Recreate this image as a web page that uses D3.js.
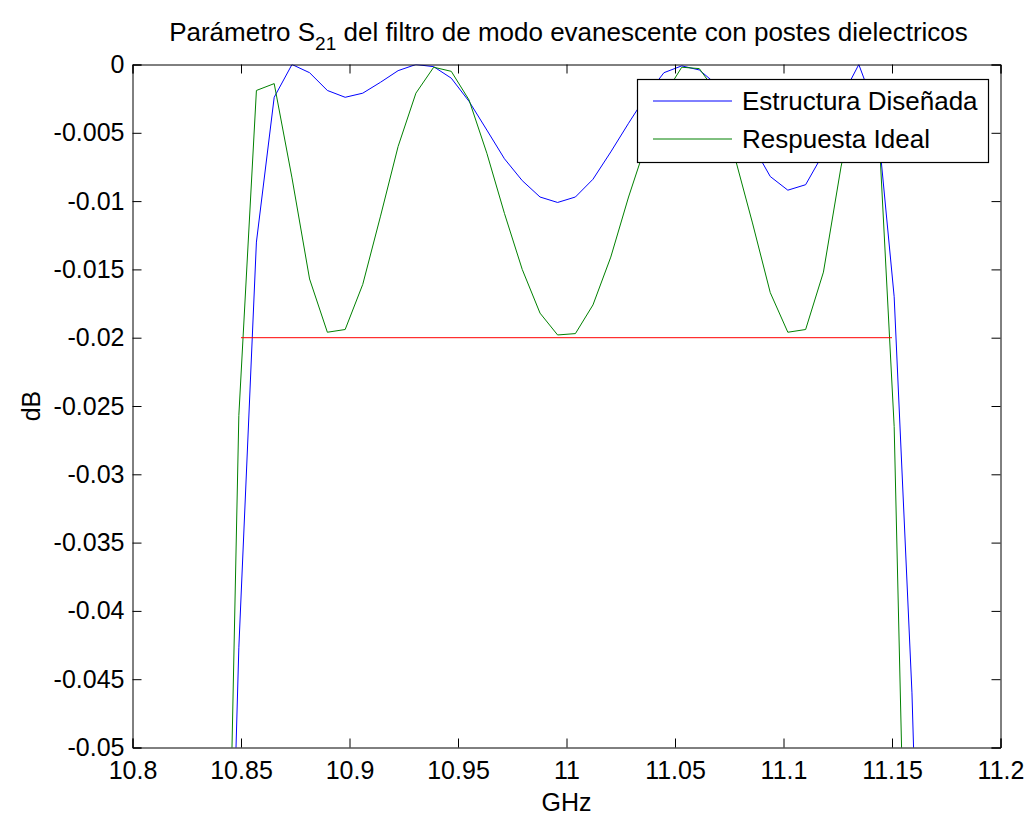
<!DOCTYPE html>
<html>
<head>
<meta charset="utf-8">
<script src="https://cdn.jsdelivr.net/npm/d3@7"></script>
<style>
  html, body { margin: 0; padding: 0; background: #fff; }
  svg { display: block; }
  text { font-family: "Liberation Sans", Arial, Helvetica, sans-serif; fill: #000; }
</style>
</head>
<body>
<svg id="chart" width="1033" height="816"></svg>
<script>
// ---- data ----
const freqs = [10.8408, 10.8490, 10.8571, 10.8653, 10.8735, 10.8816, 10.8898, 10.8980, 10.9061, 10.9143,
  10.9224, 10.9306, 10.9388, 10.9469, 10.9551, 10.9633, 10.9714, 10.9796, 10.9878, 10.9959,
  11.0041, 11.0122, 11.0204, 11.0286, 11.0367, 11.0449, 11.0531, 11.0612, 11.0694, 11.0776,
  11.0857, 11.0939, 11.1020, 11.1102, 11.1184, 11.1265, 11.1347, 11.1429, 11.1510, 11.1592, 11.1673];

const disenada = [-0.089, -0.0427, -0.0130, -0.0024, 0, -0.0006, -0.0019, -0.0024, -0.0021, -0.0013,
  -0.00045, 0, -0.00016, -0.0010, -0.0027, -0.0048, -0.0069, -0.0085, -0.0097, -0.0101,
  -0.0097, -0.0084, -0.0064, -0.0043, -0.0023, -0.0006, -0.0001, -0.0004, -0.0015, -0.0035,
  -0.0059, -0.0082, -0.0092, -0.0088, -0.0065, -0.0025, 0, -0.0035, -0.0170, -0.046, -0.090];

const ideal = [-0.089, -0.0257, -0.0019, -0.0014, -0.0083, -0.0157, -0.0196, -0.0194, -0.0161, -0.0111,
  -0.0060, -0.0021, -0.0002, -0.0005, -0.0026, -0.0065, -0.0109, -0.0150, -0.0182, -0.0198,
  -0.0197, -0.0176, -0.0141, -0.0097, -0.0058, -0.0023, -0.0002, -0.0003, -0.0021, -0.0068,
  -0.0116, -0.0167, -0.0196, -0.0194, -0.0152, -0.0075, -0.0012, -0.0017, -0.0265, -0.083, -0.15];

const limitFreqs = [10.85, 11.15];
const limitValues = [-0.02, -0.02];

const xTicks = [10.8, 10.85, 10.9, 10.95, 11, 11.05, 11.1, 11.15, 11.2];
const yTicks = [0, -0.005, -0.01, -0.015, -0.02, -0.025, -0.03, -0.035, -0.04, -0.045, -0.05];
const seriesNames = ["Estructura Diseñada", "Respuesta Ideal"];
const seriesColors = ["#0000ff", "#008000"];

// ---- layout ----
const L = 132.5, R = 1000.5, T = 64.5, B = 747.5;
const FS = 26, TFS = 25;
const svg = d3.select("#chart");

const x = d3.scaleLinear().domain([10.8, 11.2]).range([L, R]);
const y = d3.scaleLinear().domain([-0.05, 0]).range([B, T]);

svg.append("rect").attr("x", 0).attr("y", 0).attr("width", 1033).attr("height", 816).attr("fill", "#fff");

svg.append("defs").append("clipPath").attr("id", "clip")
  .append("rect").attr("x", L).attr("y", T).attr("width", R - L).attr("height", B - T);

const plot = svg.append("g").attr("clip-path", "url(#clip)");
const line = d3.line().x(d => x(d[0])).y(d => y(d[1]));

plot.append("path").datum(freqs.map((f, i) => [f, disenada[i]]))
  .attr("d", line).attr("fill", "none").attr("stroke", seriesColors[0]).attr("stroke-width", 1);
plot.append("path").datum(freqs.map((f, i) => [f, ideal[i]]))
  .attr("d", line).attr("fill", "none").attr("stroke", seriesColors[1]).attr("stroke-width", 1);
plot.append("path").datum(limitFreqs.map((f, i) => [f, limitValues[i]]))
  .attr("d", line).attr("fill", "none").attr("stroke", "#ff0000").attr("stroke-width", 1);

// ---- axes (box with inward ticks) ----
const TL = 9;
const fmtX = d => String(+d.toFixed(2));
const fmtY = d => d === 0 ? "0" : "-" + String(+Math.abs(d).toFixed(3));

const axB = svg.append("g").attr("transform", `translate(0,${B})`)
  .call(d3.axisBottom(x).tickValues(xTicks).tickSize(-TL).tickPadding(14).tickFormat(fmtX));
const axT = svg.append("g").attr("transform", `translate(0,${T})`)
  .call(d3.axisTop(x).tickValues(xTicks).tickSize(-TL).tickFormat(""));
const axL = svg.append("g").attr("transform", `translate(${L},0)`)
  .call(d3.axisLeft(y).tickValues(yTicks).tickSize(-TL).tickPadding(8).tickFormat(fmtY));
const axR = svg.append("g").attr("transform", `translate(${R},0)`)
  .call(d3.axisRight(y).tickValues(yTicks).tickSize(-TL).tickFormat(""));

[axB, axT, axL, axR].forEach(a => {
  a.select(".domain").attr("stroke", "#000").attr("stroke-width", 1);
  a.selectAll(".tick line").attr("stroke", "#000").attr("stroke-width", 1);
  a.selectAll(".tick text").attr("font-size", TFS).attr("fill", "#000")
    .attr("font-family", "Liberation Sans, Arial, sans-serif");
});
axB.selectAll(".tick text").attr("dy", "0.71em");

// ---- titles ----
const title = svg.append("text").attr("x", (L + R) / 2 + 2).attr("y", 41)
  .attr("text-anchor", "middle").attr("font-size", FS);
title.append("tspan").text("Parámetro S");
title.append("tspan").attr("dy", 9).attr("font-size", 19).text("21");
title.append("tspan").attr("dy", -9).text(" del filtro de modo evanescente con postes dielectricos");

svg.append("text").attr("x", (L + R) / 2).attr("y", 811)
  .attr("text-anchor", "middle").attr("font-size", TFS).text("GHz");

svg.append("text").attr("transform", `translate(40,${(T + B) / 2}) rotate(-90)`)
  .attr("text-anchor", "middle").attr("font-size", TFS).text("dB");

// ---- legend ----
const lg = svg.append("g");
lg.append("rect").attr("x", 637.5).attr("y", 79.5).attr("width", 351).attr("height", 83)
  .attr("fill", "#fff").attr("stroke", "#000").attr("stroke-width", 1.2);
const legendRows = [101, 139];
seriesNames.forEach((name, i) => {
  lg.append("line").attr("x1", 653).attr("x2", 732).attr("y1", legendRows[i]).attr("y2", legendRows[i])
    .attr("stroke", seriesColors[i]).attr("stroke-width", 1);
  lg.append("text").attr("x", 742).attr("y", legendRows[i] + 9).attr("font-size", FS).text(name);
});
</script>
</body>
</html>
